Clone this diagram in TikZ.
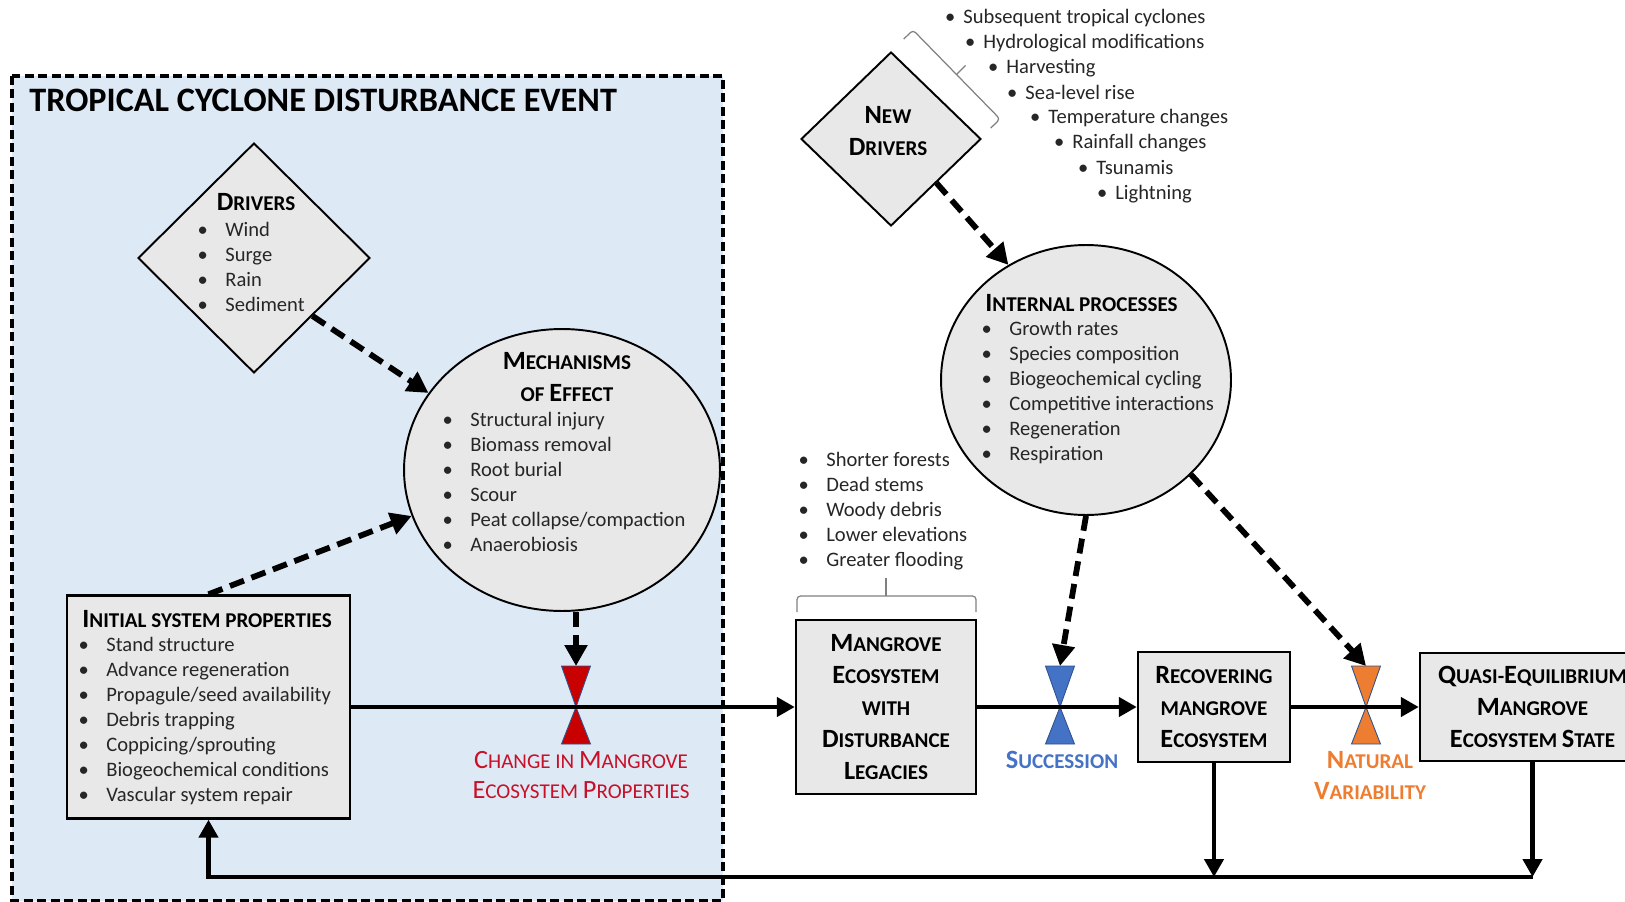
\documentclass[tikz,border=0pt]{standalone}
\usepackage{fontspec}
\setmainfont{Carlito}
\usetikzlibrary{arrows.meta,shapes.geometric,calc}

\definecolor{framefill}{RGB}{221,233,245}
\definecolor{shapefill}{RGB}{232,232,232}
\definecolor{tieline}{RGB}{47,82,143}
\definecolor{tiered}{RGB}{200,0,0}
\definecolor{tieblue}{RGB}{68,114,196}
\definecolor{tieorange}{RGB}{237,125,49}
\definecolor{labred}{RGB}{200,16,40}

% small caps by hand: first letter large, rest in small capitals
\newcommand\hd[2]{{\fontsize{15pt}{18pt}\selectfont #1}#2}
\newcommand\bl{\llap{\textbullet\hspace{0.35cm}}}
% hourglass valve on the main line: name, position, colour
\newcommand\valve[3]{%
  \coordinate (#1) at (#2);
  \coordinate (#1top) at ($(#1)+(0,-41)$);
  \filldraw[fill=#3,draw=tieline,line width=0.5pt]
    ($(#1top)+(-14.5,0)$) -- ($(#1top)+(14.5,0)$) -- (#1) -- cycle
    (#1) -- ($(#1)+(-14.5,37)$) -- ($(#1)+(14.5,37)$) -- cycle;}

\begin{document}
\begin{tikzpicture}[x=0.02cm,y=-0.02cm,
  blockbase/.style={fill=shapefill,draw=black,inner sep=0pt},
  blockbox/.style={blockbase,rectangle,line width=1.4pt,
    font=\bfseries\fontsize{12pt}{18.2pt}\selectfont,align=center},
  blockdia/.style={blockbase,diamond,line width=1.1pt},
  blockoval/.style={blockbase,ellipse,line width=1.1pt},
  head/.style={font=\bfseries\fontsize{12pt}{18.2pt}\selectfont,align=center,inner sep=0pt},
  body/.style={font=\fontsize{11.7pt}{14.23pt}\selectfont,align=left,inner sep=0pt,
    anchor=west,text=black!85},
  flow/.style={line width=2.5pt,-{Triangle[length=0.36cm,width=0.38cm]}},
  infl/.style={line width=3.3pt,dash pattern=on 0.3cm off 0.16cm,
    -{Triangle[length=0.42cm,width=0.44cm]}},
  bracket/.style={draw=gray,line width=0.7pt,rounded corners=2pt}]
  \useasboundingbox (0,0) rectangle (1625,902);
  \clip (0,0) rectangle (1625,902);

  % disturbance event frame
  \draw[fill=framefill,line width=1.8pt,dash pattern=on 0.18cm off 0.09cm]
    (12,76) rectangle (723,901);
  \node[head,anchor=west,font=\bfseries\fontsize{19.5pt}{22pt}\selectfont] (title)
    at (29,100) {TROPICAL CYCLONE DISTURBANCE EVENT};

  % drivers
  \node[blockdia,minimum width=4.64cm,minimum height=4.6cm] (drv) at (254,258) {};
  \node[head] (drvhead) at (256,202) {\hd{D}{RIVERS}};
  \node[body] (drvlist) at (225,267) {\bl Wind\\\bl Surge\\\bl Rain\\\bl Sediment};

  % mechanisms of effect
  \node[blockoval,minimum width=6.32cm,minimum height=5.64cm] (mech) at (562,470) {};
  \node[head] (mechhead) at (567,377) {\hd{M}{ECHANISMS}\\OF \hd{E}{FFECT}};
  \node[body] (mechlist) at (470,482) {\bl Structural injury\\\bl Biomass removal\\
    \bl Root burial\\\bl Scour\\\bl Peat collapse/compaction\\\bl Anaerobiosis};

  % initial system properties
  \node[blockbox,minimum width=5.66cm,minimum height=4.46cm] (init) at (208.5,707) {};
  \node[head,anchor=west] (inithead) at (82,619) {\hd{I}{NITIAL SYSTEM PROPERTIES}};
  \node[body] (initlist) at (106,721) {\bl Stand structure\\\bl Advance regeneration\\
    \bl Propagule/seed availability\\\bl Debris trapping\\\bl Coppicing/sprouting\\
    \bl Biogeochemical conditions\\\bl Vascular system repair};

  % states of the ecosystem
  \node[blockbox,minimum width=3.6cm,minimum height=3.48cm] (mang) at (886,707)
    {\hd{M}{ANGROVE}\\\hd{E}{COSYSTEM}\\WITH\\\hd{D}{ISTURBANCE}\\\hd{L}{EGACIES}};
  \node[blockbox,minimum width=3.04cm,minimum height=2.2cm] (reco) at (1214,707)
    {\hd{R}{ECOVERING}\\MANGROVE\\\hd{E}{COSYSTEM}};
  \node[blockbox,minimum width=4.5cm,minimum height=2.16cm] (quasi) at (1532.5,707)
    {\hd{Q}{UASI}-\hd{E}{QUILIBRIUM}\\\hd{M}{ANGROVE}\\\hd{E}{COSYSTEM} \hd{S}{TATE}};

  % disturbance legacies
  \node[body] (legacy) at (826,511) {\bl Shorter forests\\\bl Dead stems\\
    \bl Woody debris\\\bl Lower elevations\\\bl Greater flooding};
  \draw[bracket] (797,612) -- (797,596) -- (976,596) -- (976,612);
  \draw[bracket] (886,596) -- (886,578);

  % new drivers
  \node[blockdia,minimum width=3.6cm,minimum height=3.48cm] (ndrv) at (891,139) {};
  \node[head] (ndrvhead) at (888,131) {\hd{N}{EW}\\\hd{D}{RIVERS}};
  \foreach \bx/\by/\lbl [count=\i] in {963/18/Subsequent tropical cyclones,
      983/43/Hydrological modifications, 1006/68/Harvesting, 1025/94/Sea-level rise,
      1048/118/Temperature changes, 1072/143/Rainfall changes, 1096/168/Tsunamis,
      1115/193/Lightning}
    \node[body,anchor=base west] (nd\i) at (\bx,\by+6)
      {\llap{\textbullet\hspace{0.16cm}}\lbl};
  \draw[bracket] (903.7,39.1) -- (913,30) -- (1000,119) -- (990.7,128.1);
  \draw[bracket] (956.5,74.5) -- (965.5,65.5);

  % internal processes
  \node[blockoval,minimum width=5.8cm,minimum height=5.4cm] (intp) at (1086,380) {};
  \node[head,anchor=west] (intphead) at (985,303) {\hd{I}{NTERNAL PROCESSES}};
  \node[body] (intplist) at (1009,393) {\bl Growth rates\\\bl Species composition\\
    \bl Biogeochemical cycling\\\bl Competitive interactions\\\bl Regeneration\\
    \bl Respiration};

  % valves and their labels
  \valve{rtie}{576,707}{tiered}
  \valve{btie}{1060,707}{tieblue}
  \valve{otie}{1366,707}{tieorange}
  \node[head,font=\fontsize{12pt}{17.6pt}\selectfont,text=labred] (rlab) at (581,775)
    {\hd{C}{HANGE IN }\hd{M}{ANGROVE}\\\hd{E}{COSYSTEM }\hd{P}{ROPERTIES}};
  \node[head,text=tieblue] (blab) at (1062,760) {\hd{S}{UCCESSION}};
  \node[head,font=\bfseries\fontsize{12pt}{17.6pt}\selectfont,text=tieorange] (olab)
    at (1370,775) {\hd{N}{ATURAL}\\\hd{V}{ARIABILITY}};

  % influences
  \draw[infl] (drv.south east) -- (mech.150);
  \draw[infl] (init.north) -- (mech.197);
  \draw[infl] (rtietop |- mech.south) -- (rtietop);
  \draw[infl] (ndrv.south east) -- (intp.124);
  \draw[infl] (intp.south) -- (btietop);
  \draw[infl] (intp.-42) -- (otietop);

  % main trajectory and feedback
  \draw[flow] (init.east) -- (mang.west);
  \draw[flow] (mang.east) -- (reco.west);
  \draw[flow] (reco.east) -- (quasi.west);
  \coordinate (fb) at (0,877);
  \draw[flow] (reco.south) -- (reco.south |- fb);
  \draw[flow] (quasi.south) -- (quasi.south |- fb);
  \draw[flow] (quasi.south |- fb) -- (init.south |- fb) -- (init.south);
\end{tikzpicture}
\end{document}
